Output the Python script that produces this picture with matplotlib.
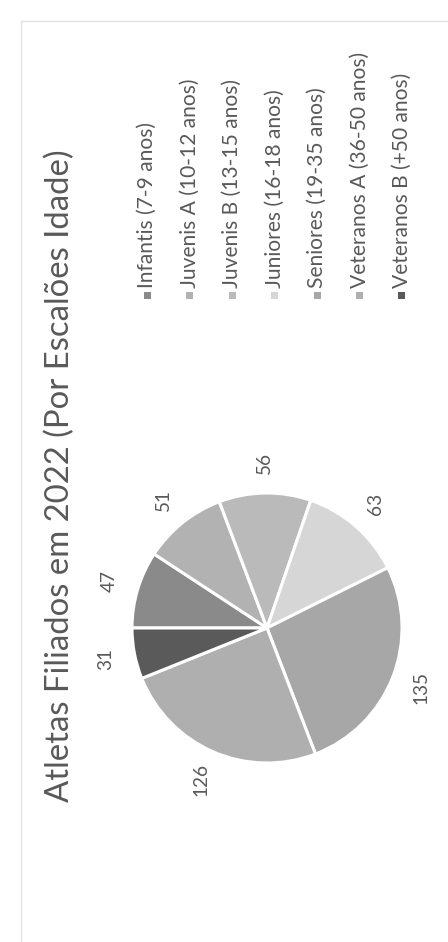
import matplotlib
matplotlib.use("Agg")
import matplotlib.pyplot as plt
from matplotlib.patches import Rectangle
import numpy as np

# ---- data ----
categories = ["Infantis (7-9 anos)", "Juvenis A (10-12 anos)", "Juvenis B (13-15 anos)",
              "Juniores (16-18 anos)", "Seniores (19-35 anos)", "Veteranos A (36-50 anos)",
              "Veteranos B (+50 anos)"]
values = [47, 51, 56, 63, 135, 126, 31]
colors = ["#8a8a8a", "#b2b2b2", "#bababa", "#d6d6d6", "#a7a7a7", "#afafaf", "#5a5a5a"]
title = "Atletas Filiados em 2022 (Por Escalões Idade)"

plt.rcParams['font.family'] = ['Lato', 'DejaVu Sans']
TXT = "#595959"

W, H = 448, 942
fig = plt.figure(figsize=(W / 100, H / 100), dpi=100)
ax = fig.add_axes([0, 0, 1, 1])

def Y(y):  # pixel row (from top) -> data y
    return H - y

cx, cy, R = 267, 628, 135
wedges, _ = ax.pie(values, startangle=180, counterclock=False, colors=colors,
                   center=(cx, Y(cy)), radius=R,
                   wedgeprops=dict(edgecolor="white", linewidth=2.2))
ax.set_xlim(0, W)
ax.set_ylim(0, H)
ax.set_aspect("equal")
ax.axis("off")

# faint chart-area border (top and left only visible in the scan)
ax.plot([21, W], [Y(21), Y(21)], color="#e2e2e2", lw=1.0)
ax.plot([21, 21], [Y(21), 0], color="#e2e2e2", lw=1.0)

fig.canvas.draw()
renderer = fig.canvas.get_renderer()

def fit(texts, ref, target):
    bb = ref.get_window_extent(renderer)
    s = target / bb.height
    for t in texts:
        t.set_fontsize(t.get_fontsize() * s)

# data labels
labels = []
for w, v in zip(wedges, values):
    mid = np.deg2rad((w.theta1 + w.theta2) / 2)
    d = R * 1.22
    labels.append(ax.text(cx + d * np.cos(mid), Y(cy) + d * np.sin(mid), str(v),
                          rotation=90, ha="center", va="center", color=TXT,
                          fontsize=14, fontweight="normal"))
fit(labels, labels[5], 33)

# title
tt = ax.text(60, Y(476), title, rotation=90, ha="center", va="center",
             color=TXT, fontsize=20, fontweight="normal")
fit([tt], tt, 652)

# legend
leg_texts = []
x0, dx = 147, 42.5
for i, (c, col) in enumerate(zip(categories, colors)):
    x = x0 + i * dx
    ax.add_patch(Rectangle((x - 3.5, Y(299)), 7, 7, facecolor=col, edgecolor="none"))
    leg_texts.append(ax.text(x, Y(288), c, rotation=90, ha="center", va="bottom",
                             color=TXT, fontsize=12, fontweight="normal"))
fit(leg_texts, leg_texts[0], 165)

fig.savefig("out.png", dpi=100, facecolor="white")
